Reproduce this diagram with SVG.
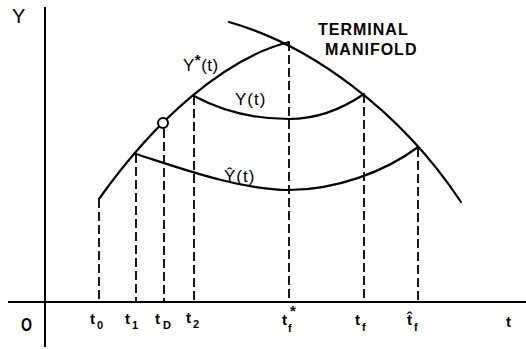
<svg xmlns="http://www.w3.org/2000/svg" width="526" height="349" viewBox="0 0 526 349">
<style>
.ax{stroke:#000;stroke-width:2;fill:none}
.cv{stroke:#000;stroke-width:2.2;fill:none;stroke-linecap:round}
.dash{stroke:#000;stroke-width:1.8;fill:none;stroke-dasharray:9 4}
.lab{font-family:"Liberation Sans",Arial,sans-serif;fill:#000}
.tl{font-family:"Liberation Sans",Arial,sans-serif;font-weight:bold;font-size:15px;fill:#000}
.ts{font-family:"Liberation Sans",Arial,sans-serif;font-weight:bold;font-size:11px;fill:#000}
</style>
<rect width="526" height="349" fill="#fff"/>
<g id="axes">
<line class="ax" x1="45" y1="7" x2="45" y2="347"/>
<line class="ax" x1="8" y1="302" x2="526" y2="302"/>
<text class="lab" x="12" y="23" font-size="20">Y</text>
<text class="lab" x="21" y="331" font-size="19" font-weight="bold" textLength="11" lengthAdjust="spacingAndGlyphs">O</text>
</g>
<g id="guides">
<line class="dash" x1="99" y1="199" x2="99" y2="302"/>
<line class="dash" x1="136" y1="154" x2="136" y2="302"/>
<line class="dash" x1="164" y1="129" x2="164" y2="302"/>
<line class="dash" x1="194" y1="96" x2="194" y2="302"/>
<line class="dash" x1="289" y1="42" x2="289" y2="302"/>
<line class="dash" x1="364" y1="94" x2="364" y2="302"/>
<line class="dash" x1="418" y1="148" x2="418" y2="302"/>
</g>
<g id="curves">
<path id="ystar" class="cv" d="M99,199 C155,120 225,58 289,42"/>
<path id="manifold" class="cv" d="M229,22 C310,45 400,110 461,202"/>
<path id="y" class="cv" d="M194,96 C220,110 250,119 289,119 C320,119 345,107 364,94"/>
<path id="yhat" class="cv" d="M136,154 C180,168 240,190 289,190 C335,190 385,172 418,147"/>
<circle id="point" cx="163" cy="123" r="5" fill="#fff" stroke="#000" stroke-width="2"/>
</g>
<g id="labels">
<text class="lab" x="183" y="71" font-size="17" letter-spacing="0.5">Y<tspan dy="-6" font-size="15" font-weight="bold">*</tspan><tspan dy="6">(t)</tspan></text>
<text class="lab" x="235" y="105" font-size="17" letter-spacing="1">Y(t)</text>
<text class="lab" x="224" y="182" font-size="17" letter-spacing="1">Ŷ(t)</text>
<text class="lab" x="318" y="35" font-size="16" font-weight="bold" letter-spacing="1">TERMINAL</text>
<text class="lab" x="325" y="55" font-size="16" font-weight="bold" letter-spacing="1">MANIFOLD</text>
<text class="tl" x="90" y="324">t</text><text class="ts" x="97" y="329">0</text>
<text class="tl" x="125" y="324">t</text><text class="ts" x="132" y="329">1</text>
<text class="tl" x="155" y="324">t</text><text class="ts" x="163" y="329">D</text>
<text class="tl" x="186" y="323">t</text><text class="ts" x="193" y="328">2</text>
<text class="tl" x="282" y="325">t</text><text class="ts" x="288" y="332">f</text><text class="tl" x="290" y="316">*</text>
<text class="tl" x="355" y="325">t</text><text class="ts" x="362" y="331">f</text>
<text class="tl" x="407" y="325">t̂</text><text class="ts" x="414" y="331">f</text>
<text class="tl" x="506" y="327">t</text>
</g>
</svg>
